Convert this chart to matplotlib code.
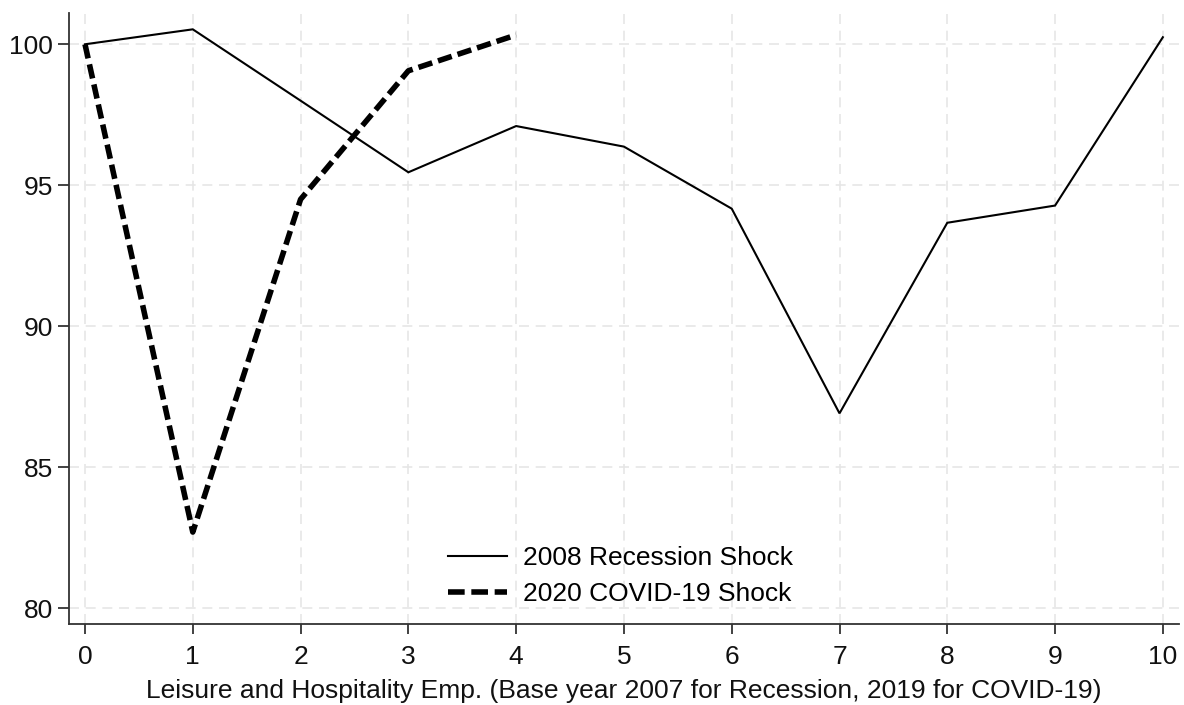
import matplotlib
matplotlib.use("Agg")
import matplotlib.pyplot as plt

plt.rcParams['font.family'] = ['Liberation Sans', 'DejaVu Sans']

years = [0, 1, 2, 3, 4, 5, 6, 7, 8, 9, 10]
recession_2008 = [100.0, 100.53, 98.0, 95.46, 97.10, 96.37, 94.17, 86.91, 93.67, 94.28, 100.25]
covid_years = [0, 1, 2, 3, 4]
covid_2020 = [100.0, 82.7, 94.5, 99.06, 100.33]

x_ticks = list(range(0, 11))
y_ticks = [80, 85, 90, 95, 100]
x_label = "Leisure and Hospitality Emp. (Base year 2007 for Recession, 2019 for COVID-19)"

fig = plt.figure(figsize=(11.84, 7.05), dpi=100)
ax = fig.add_axes([0.0585, 0.1145, 0.9373, 0.8671])

ax.plot(years, recession_2008, color='black', lw=1.5, label='2008 Recession Shock',
        solid_joinstyle='miter')
ax.plot(covid_years, covid_2020, color='black', lw=4.0, linestyle=(0, (2.6, 1.1)),
        label='2020 COVID-19 Shock', dash_capstyle='butt')

ax.set_xlim(-0.146, 10.15)
ax.set_ylim(79.43, 101.11)
ax.set_xticks(x_ticks)
ax.set_yticks(y_ticks)
ax.grid(True, color='#e6e6e6', linestyle=(0, (6, 4)), lw=1.2)
ax.set_axisbelow(True)

for side in ['top', 'right']:
    ax.spines[side].set_visible(False)
for side in ['left', 'bottom']:
    ax.spines[side].set_color('#333333')
    ax.spines[side].set_linewidth(1.3)
ax.tick_params(direction='out', width=1.3, color='#333333',
               labelsize=19, labelcolor='#111111')
ax.tick_params(axis='y', length=8, pad=3.5)
ax.tick_params(axis='x', length=7, pad=8)
ax.set_xlabel(x_label, fontsize=19, color='#111111', labelpad=7)

leg = ax.legend(loc='upper left', bbox_to_anchor=(448 / 1184, 1 - 546 / 705),
                bbox_transform=fig.transFigure, frameon=False, fontsize=19,
                handlelength=2.25, handletextpad=0.6, labelspacing=0.46,
                borderaxespad=0, borderpad=0)
leg.get_lines()[1].set_linestyle((0, (3.0, 1.2)))

fig.savefig('out.png', dpi=100, facecolor='white')
